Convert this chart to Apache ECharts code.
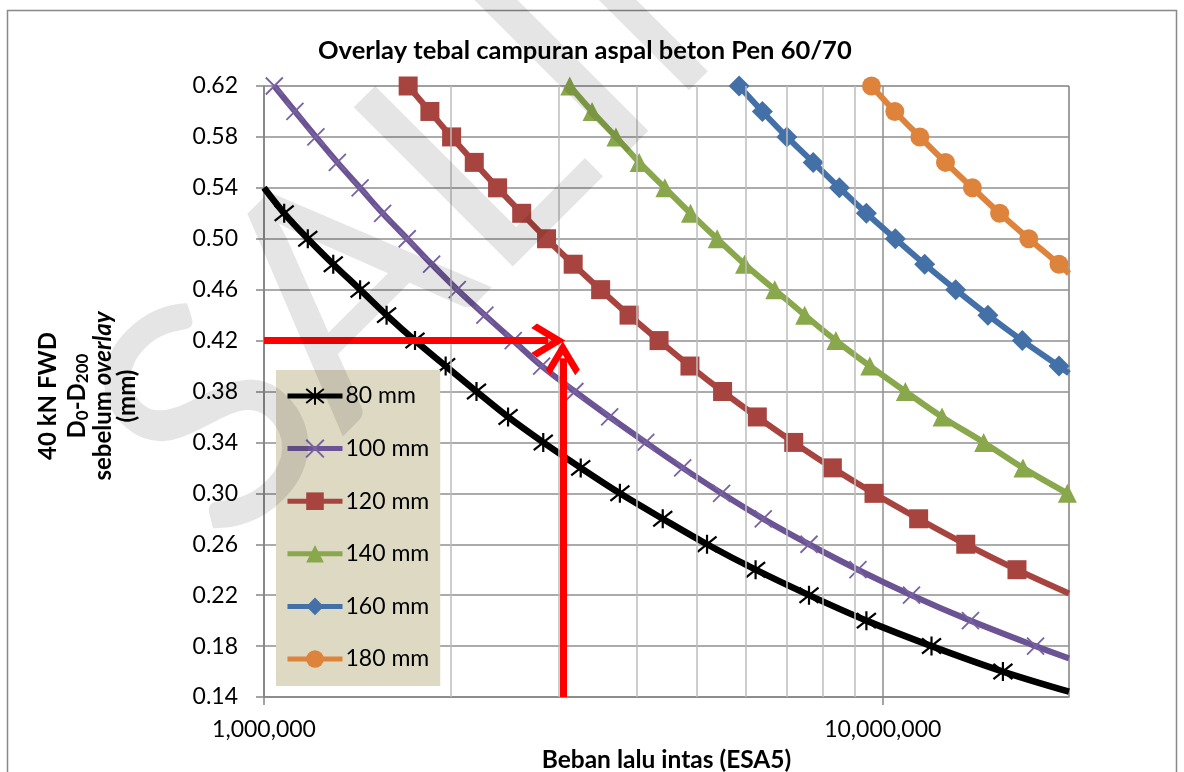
<!DOCTYPE html>
<html>
<head>
<meta charset="utf-8">
<script src="https://cdn.jsdelivr.net/npm/echarts@6/dist/echarts.min.js"></script>
<style>
html,body{margin:0;padding:0;background:#fff;}
#chart{width:1184px;height:772px;}
</style>
</head>
<body>
<div id="chart"></div>
<script>
// ---------- data ----------
const titleText = 'Overlay tebal campuran aspal beton Pen 60/70';
const xAxisTitle = 'Beban lalu intas (ESA5)';
const yTitleLine1 = '40 kN FWD';
const yTitleLine2 = [['D', false], ['0', true], ['-D', false], ['200', true]];
const yTitleLine3 = ['sebelum ', 'overlay'];
const yTitleLine4 = '(mm)';
const watermarkText = 'SALINAN';
const seriesNames = ['80 mm', '100 mm', '120 mm', '140 mm', '160 mm', '180 mm'];
const xMin = 1000000, xMax = 20000000;
const yMin = 0.14, yMax = 0.62, yStep = 0.04;
const minorGrid = [2e6, 3e6, 4e6, 5e6, 6e6, 7e6, 8e6, 9e6];

// 80 mm
const esa80 = [1.078e6, 1.177e6, 1.294e6, 1.43e6, 1.578e6, 1.754e6, 1.966e6, 2.205e6, 2.48e6, 2.827e6, 3.25e6, 3.76e6, 4.41e6, 5.20e6, 6.23e6, 7.60e6, 9.41e6, 1.199e7, 1.564e7];
const def80 = [0.52, 0.50, 0.48, 0.46, 0.44, 0.42, 0.40, 0.38, 0.36, 0.34, 0.32, 0.30, 0.28, 0.26, 0.24, 0.22, 0.20, 0.18, 0.16];
const lead80 = [1.0e6, 0.54];
const tail80 = [2.0e7, 0.1442];
// 100 mm
const esa100 = [1.039e6, 1.122e6, 1.213e6, 1.314e6, 1.43e6, 1.555e6, 1.704e6, 1.866e6, 2.053e6, 2.275e6, 2.528e6, 2.81e6, 3.18e6, 3.62e6, 4.14e6, 4.75e6, 5.49e6, 6.41e6, 7.60e6, 9.12e6, 1.113e7, 1.386e7, 1.766e7];
const def100 = [0.62, 0.60, 0.58, 0.56, 0.54, 0.52, 0.50, 0.48, 0.46, 0.44, 0.42, 0.40, 0.38, 0.36, 0.34, 0.32, 0.30, 0.28, 0.26, 0.24, 0.22, 0.20, 0.18];
const tail100 = [2.0e7, 0.1704];
// 120 mm
const esa120 = [1.71e6, 1.854e6, 2.01e6, 2.187e6, 2.385e6, 2.609e6, 2.862e6, 3.16e6, 3.50e6, 3.89e6, 4.35e6, 4.88e6, 5.51e6, 6.27e6, 7.18e6, 8.29e6, 9.68e6, 1.143e7, 1.362e7, 1.648e7];
const def120 = [0.62, 0.60, 0.58, 0.56, 0.54, 0.52, 0.50, 0.48, 0.46, 0.44, 0.42, 0.40, 0.38, 0.36, 0.34, 0.32, 0.30, 0.28, 0.26, 0.24];
const tail120 = [2.0e7, 0.2214];
// 140 mm
const esa140 = [3.12e6, 3.39e6, 3.705e6, 4.04e6, 4.445e6, 4.89e6, 5.40e6, 5.98e6, 6.69e6, 7.48e6, 8.40e6, 9.53e6, 1.088e7, 1.247e7, 1.456e7, 1.685e7, 1.988e7];
const def140 = [0.62, 0.60, 0.58, 0.56, 0.54, 0.52, 0.50, 0.48, 0.46, 0.44, 0.42, 0.40, 0.38, 0.36, 0.34, 0.32, 0.30];
// 160 mm
const esa160 = [5.86e6, 6.39e6, 7.00e6, 7.72e6, 8.51e6, 9.41e6, 1.048e7, 1.169e7, 1.312e7, 1.479e7, 1.681e7, 1.927e7];
const def160 = [0.62, 0.60, 0.58, 0.56, 0.54, 0.52, 0.50, 0.48, 0.46, 0.44, 0.42, 0.40];
const tail160 = [2.0e7, 0.3942];
// 180 mm
const esa180 = [9.59e6, 1.046e7, 1.148e7, 1.263e7, 1.396e7, 1.545e7, 1.722e7, 1.927e7];
const def180 = [0.62, 0.60, 0.58, 0.56, 0.54, 0.52, 0.50, 0.48];
const tail180 = [2.0e7, 0.4727];

// red guide arrows (line ends; the open arrow heads extend past them)
const guideDefl = 0.42;
const guideHorizEnd = 2.88e6;
const guideLoad = 3.04e6;
const guideVertEnd = 0.4062;

// ---------- build ----------
const FONT = 'Lato';
function pts(xs, ys, lead, tail) {
  const d = xs.map((x, i) => [x, ys[i]]);
  if (lead) d.unshift({ value: lead, symbol: 'none' });
  if (tail) d.push({ value: tail, symbol: 'none' });
  return d;
}
const ASTER = 'path://M0,1 L10,9 M0,9 L10,1 M5,0 L5,10';
const XMARK = 'path://M0,0 L10,10 M0,10 L10,0';
const CHEVRON = 'path://M15,0 L30,25 L26,30 L15,12 L4,30 L0,25 Z';
const LW = 6;

function lineSeries(name, data, color, symbol, size, extra) {
  return Object.assign({
    name, type: 'line', data, smooth: 0.35, clip: true,
    symbol, symbolSize: size,
    lineStyle: { color, width: LW },
    itemStyle: { color, borderColor: color, borderWidth: 0 },
    emphasis: { disabled: true }, z: 3
  }, extra || {});
}

const series = [
  lineSeries(seriesNames[0], pts(esa80, def80, lead80, tail80), '#000000', ASTER, 19,
    { itemStyle: { color: 'rgba(0,0,0,0)', borderColor: '#000', borderWidth: 2.2 }, lineStyle: { color: '#000', width: LW + 0.5 } }),
  lineSeries(seriesNames[1], pts(esa100, def100, null, tail100), '#6C5494', XMARK, 17,
    { itemStyle: { color: 'rgba(0,0,0,0)', borderColor: '#7862A2', borderWidth: 1.8 } }),
  lineSeries(seriesNames[2], pts(esa120, def120, null, tail120), '#A8443F', 'rect', 19),
  lineSeries(seriesNames[3], pts(esa140, def140, null, null), '#89A74B', 'triangle', 19),
  lineSeries(seriesNames[4], pts(esa160, def160, null, tail160), '#4470A8', 'diamond', 21),
  lineSeries(seriesNames[5], pts(esa180, def180, null, tail180), '#DE833C', 'circle', 19),
  {
    name: 'grid-helper', type: 'line', data: [], silent: true, z: 1,
    markLine: {
      silent: true, symbol: ['none', 'none'], animation: false,
      label: { show: false },
      lineStyle: { color: '#BDBDBD', width: 1.5, type: 'solid' },
      data: minorGrid.map(v => ({ xAxis: v }))
    }
  },
  {
    name: 'guide', type: 'line', data: [], silent: true, z: 6, clip: false,
    markLine: {
      silent: true, animation: false, symbol: ['none', CHEVRON], symbolSize: 34,
      label: { show: false },
      itemStyle: { color: '#FF0000' },
      lineStyle: { color: '#FF0000', width: 7, type: 'solid', opacity: 1 },
      data: [
        [{ coord: [xMin, guideDefl] }, { coord: [guideHorizEnd, guideDefl] }],
        [{ coord: [guideLoad, yMin] }, { coord: [guideLoad, guideVertEnd] }]
      ]
    }
  }
];

// ---- rotated y-axis title built from plain text pieces ----
const YT = 24, YS = 17;
const mctx = document.createElement('canvas').getContext('2d');
function tw(str, size, italic) {
  mctx.font = (italic ? 'italic ' : '') + 'bold ' + size + 'px ' + FONT;
  return mctx.measureText(str).width;
}
function tstyle(str, size, italic, align) {
  return { text: str, fill: '#000', align: align || 'left', verticalAlign: 'middle',
           font: (italic ? 'italic ' : '') + 'bold ' + size + 'px ' + FONT };
}
const yTitleChildren = [];
yTitleChildren.push({ type: 'text', x: 0, y: -40, style: tstyle(yTitleLine1, YT, false, 'center') });
(function () {
  const widths = yTitleLine2.map(p => tw(p[0], p[1] ? YS : YT, false));
  const total = widths.reduce((a, b) => a + b, 0);
  let cx = -total / 2;
  yTitleLine2.forEach((p, i) => {
    yTitleChildren.push({ type: 'text', x: cx, y: p[1] ? -5 : -11, style: tstyle(p[0], p[1] ? YS : YT, false, 'left') });
    cx += widths[i];
  });
})();
(function () {
  const w1 = tw(yTitleLine3[0], YT, false), w2 = tw(yTitleLine3[1], YT, true);
  const start = -(w1 + w2) / 2;
  yTitleChildren.push({ type: 'text', x: start, y: 15, style: tstyle(yTitleLine3[0], YT, false, 'left') });
  yTitleChildren.push({ type: 'text', x: start + w1, y: 15, style: tstyle(yTitleLine3[1], YT, true, 'left') });
})();
yTitleChildren.push({ type: 'text', x: 0, y: 39, style: tstyle(yTitleLine4, YT, false, 'center') });

const chart = echarts.init(document.getElementById('chart'), null, { renderer: 'canvas' });
chart.setOption({
  animation: false,
  backgroundColor: '#ffffff',
  textStyle: { fontFamily: FONT },
  title: {
    text: titleText, left: 318, top: 38, padding: 0,
    textStyle: { fontFamily: FONT, fontWeight: 'bold', fontSize: 25.5, color: '#000' }
  },
  grid: {
    left: 264, top: 86, right: 115, bottom: 75, show: true, borderColor: '#A6A6A6', borderWidth: 1,
    backgroundColor: 'transparent', containLabel: false, outerBoundsMode: 'none'
  },
  legend: {
    data: seriesNames, orient: 'vertical', left: 276, top: 370,
    backgroundColor: '#DDD9C3', padding: [14, 11, 15, 9],
    itemWidth: 55, itemHeight: 22, itemGap: 28.6, selectedMode: false,
    lineStyle: { width: 5 },
    textStyle: { fontFamily: FONT, fontSize: 23, color: '#000', lineHeight: 24, padding: [0, 0, 0, -2] },
    z: 5
  },
  xAxis: {
    type: 'log', logBase: 10, min: xMin, max: xMax,
    name: xAxisTitle, nameLocation: 'middle', nameGap: 51,
    nameTextStyle: { fontFamily: FONT, fontWeight: 'bold', fontSize: 24.5, color: '#000' },
    axisLine: { show: true, lineStyle: { color: '#868686', width: 1.5 } },
    axisTick: { show: true, length: 8, lineStyle: { color: '#868686', width: 1.5 } },
    axisLabel: {
      margin: 21, fontFamily: FONT, fontSize: 23, color: '#000', showMaxLabel: false,
      formatter: v => String(Math.round(v)).replace(/\B(?=(\d{3})+(?!\d))/g, ',')
    },
    splitLine: { show: true, lineStyle: { color: '#8F8F8F', width: 1.5 } },
    minorTick: { show: false }
  },
  yAxis: {
    type: 'value', min: yMin, max: yMax, interval: yStep,
    axisLine: { show: true, lineStyle: { color: '#868686', width: 1.5 } },
    axisTick: { show: true, length: 8, lineStyle: { color: '#868686', width: 1.5 } },
    axisLabel: { margin: 26, fontFamily: FONT, fontSize: 23, color: '#000', formatter: v => v.toFixed(2) },
    splitLine: { show: true, lineStyle: { color: '#8F8F8F', width: 1.5 } }
  },
  graphic: [
    {
      type: 'rect', silent: true, z: 0,
      shape: { x: 7.5, y: 10.5, width: 1169, height: 800 },
      style: { fill: 'none', stroke: '#898989', lineWidth: 1.5 }
    },
    {
      type: 'group', silent: true, z: 10, x: 88, y: 396, rotation: Math.PI / 2,
      children: yTitleChildren
    },
    {
      type: 'text', silent: true, z: 100,
      x: 153, y: 483, rotation: Math.PI / 4,
      style: { text: watermarkText, font: 'normal 314px Lato', fill: 'rgba(0,0,0,0.10)', align: 'left', verticalAlign: 'middle' }
    }
  ],
  series
});
</script>
</body>
</html>
